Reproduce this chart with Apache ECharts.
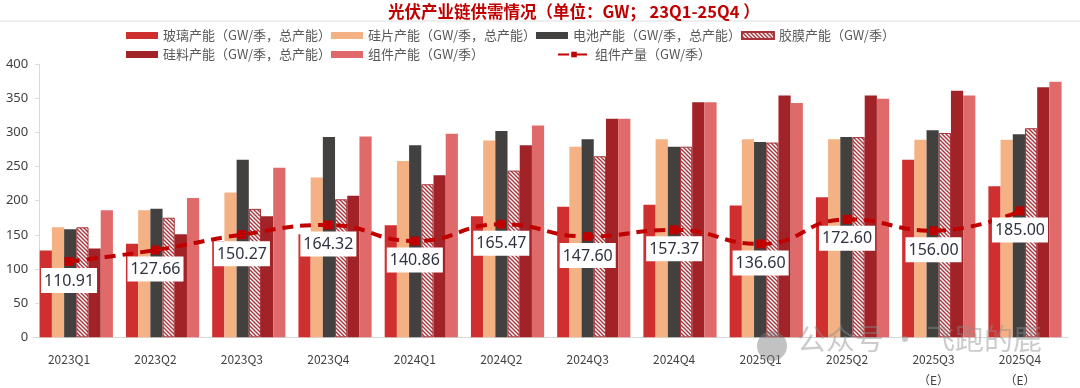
<!DOCTYPE html>
<html>
<head>
<meta charset="utf-8">
<script src="https://cdn.jsdelivr.net/npm/echarts@6/dist/echarts.min.js"></script>
<style>
html,body{margin:0;padding:0;background:#fff;}
#chart{width:1080px;height:388px;}
</style>
</head>
<body>
<div id="chart"></div>
<script>
// ---- data ----
const categories = ['2023Q1','2023Q2','2023Q3','2023Q4','2024Q1','2024Q2','2024Q3','2024Q4','2025Q1','2025Q2','2025Q3\n（E）','2025Q4\n（E）'];
const glassCap  = [127,137,141,151,164,177,191,194,193,205,260,221];
const waferCap  = [161,186,212,234,258,288,279,290,290,290,289,289];
const cellCap   = [158,188,260,293,281,302,290,279,286,293,303,297];
const filmCap   = [161,175,188,202,224,244,265,279,285,293,299,306];
const polyCap   = [130,151,177,207,237,281,320,344,354,354,361,366];
const moduleCap = [186,204,248,294,298,310,320,344,343,349,354,374];
const moduleOut = [110.91,127.66,150.27,164.32,140.86,165.47,147.60,157.37,136.60,172.60,156.00,185.00];
const yTicks = [0,50,100,150,200,250,300,350,400];

const names = ['玻璃产能（GW/季，总产能）','硅片产能（GW/季，总产能）','电池产能（GW/季，总产能）','胶膜产能（GW/季）','硅料产能（GW/季，总产能）','组件产能（GW/季）','组件产量（GW/季）'];

// hatch pattern
const pc = document.createElement('canvas');
pc.width = 4; pc.height = 4;
const g = pc.getContext('2d');
g.fillStyle = '#ffffff'; g.fillRect(0,0,4,4);
g.strokeStyle = '#A8333A'; g.lineWidth = 1.4;
g.beginPath();
g.moveTo(-1,-1); g.lineTo(5,5);
g.moveTo(-1,3); g.lineTo(1,5);
g.moveTo(3,-1); g.lineTo(5,1);
g.stroke();

const FONT = '"Noto Sans CJK SC","Noto Sans",sans-serif';
const BW = 12.2;

function bar(name, data, color, extra) {
  return Object.assign({
    name: name, type: 'bar', data: data, barWidth: BW, barGap: '0%',
    xAxisIndex: 0, yAxisIndex: 0,
    itemStyle: { color: color }, z: 2
  }, extra || {});
}

const chart = echarts.init(document.getElementById('chart'));
const legendText = { fontSize: 13, color: '#595959', fontFamily: FONT, width: 181 };
chart.setOption({
  animation: false,
  title: {
    text: '光伏产业链供需情况（单位：GW； 23Q1-25Q4 ）',
    left: 383, top: -2,
    textStyle: { fontSize: 16.5, fontWeight: 'bold', color: '#C00000', fontFamily: FONT }
  },
  legend: [
    { data: names.slice(0,4), left: 121, top: 24, itemWidth: 32, itemHeight: 7, itemGap: 0,
      textStyle: legendText, icon: 'rect' },
    { data: names.slice(4,6), left: 121, top: 43, itemWidth: 32, itemHeight: 7, itemGap: 0,
      textStyle: legendText, icon: 'rect' },
    { data: [names[6]], left: 552, top: 43, itemWidth: 32, itemHeight: 7, itemGap: 0,
      textStyle: legendText }
  ],
  grid: [
    { left: 33.2, right: 11.9, top: 64, bottom: 50.7, outerBoundsMode: 'none', containLabel: false },
    { left: 25.8, right: 16.8, top: 64, bottom: 50.7, outerBoundsMode: 'none', containLabel: false }
  ],
  xAxis: [
    { type: 'category', data: categories, gridIndex: 0,
      axisLine: { lineStyle: { color: '#D9D9D9', width: 1 } },
      axisTick: { show: false }, axisLabel: { show: false } },
    { type: 'category', data: categories, gridIndex: 1,
      axisLine: { show: false }, axisTick: { show: false },
      axisLabel: { fontSize: 12, color: '#404040', fontFamily: FONT, margin: 12, lineHeight: 21, interval: 0 } }
  ],
  yAxis: [
    { type: 'value', gridIndex: 0, min: yTicks[0], max: yTicks[yTicks.length-1], interval: 50, offset: -6,
      axisLine: { show: true, lineStyle: { color: '#D9D9D9' } },
      axisTick: { show: true, length: 4, lineStyle: { color: '#D9D9D9' } },
      splitLine: { show: false },
      axisLabel: { fontSize: 13, color: '#404040', fontFamily: '"Noto Sans",sans-serif', margin: 11 } },
    { type: 'value', gridIndex: 1, min: yTicks[0], max: yTicks[yTicks.length-1], interval: 50, show: false,
      splitLine: { show: false } }
  ],
  graphic: [
    { type: 'line', shape: { x1: 0, y1: 21, x2: 1080, y2: 21 }, style: { stroke: '#EEEEEE', lineWidth: 2 }, z: 0 },
    { type: 'circle', shape: { cx: 772, cy: 346, r: 15 }, style: { fill: 'rgba(120,120,120,0.45)' }, z: 100 },
    { type: 'text', left: 797, top: 324, z: 100,
      style: { text: '公众号 · 飞跑的鹿', fontSize: 29, fill: 'rgba(140,140,140,0.45)', fontFamily: FONT } }
  ],
  series: [
    bar(names[0], glassCap, '#D02F2F'),
    bar(names[1], waferCap, '#F4B183'),
    bar(names[2], cellCap, '#434140'),
    bar(names[3], filmCap, null, { itemStyle: { color: { image: pc, repeat: 'repeat' }, borderColor: '#A8333A', borderWidth: 1 } }),
    bar(names[4], polyCap, '#A12327'),
    bar(names[5], moduleCap, '#E06A6A'),
    {
      name: names[6], type: 'line', data: moduleOut, xAxisIndex: 1, yAxisIndex: 1,
      smooth: true, symbol: 'rect', symbolSize: 9, z: 10,
      lineStyle: { color: '#C00000', width: 4, type: [11, 7] },
      itemStyle: { color: '#C00000' },
      label: { show: true, position: 'bottom', distance: 2,
        formatter: p => p.value.toFixed(2),
        backgroundColor: '#ffffff', padding: [5, 3, 4, 3],
        fontSize: 16, color: '#2F3340', fontFamily: '"Noto Sans",sans-serif' }
    }
  ]
});
</script>
</body>
</html>
